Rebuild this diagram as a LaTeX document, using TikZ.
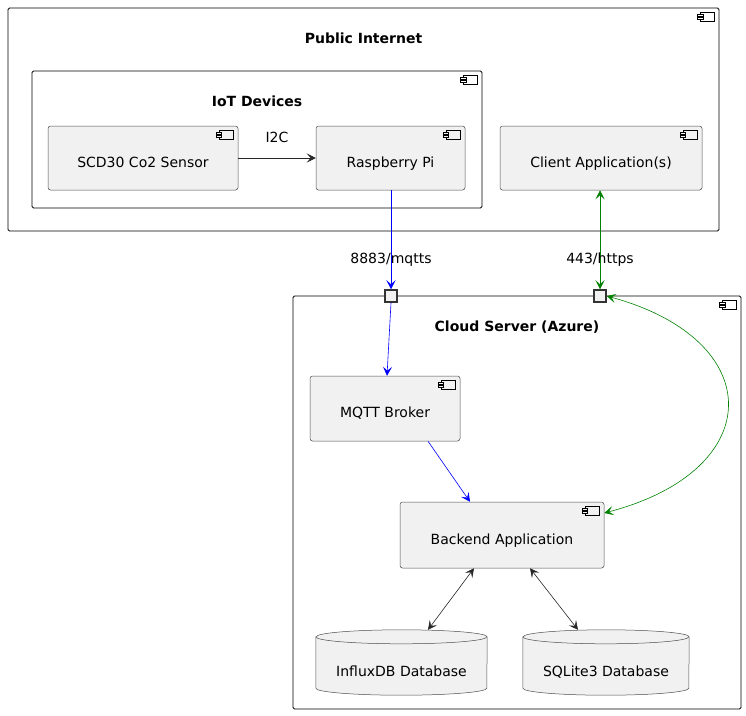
\documentclass[tikz,border=0pt]{standalone}
\usepackage{fontspec}
\setmainfont{DejaVu Sans}
\usepackage{tikz}
\usetikzlibrary{arrows.meta}
\usetikzlibrary{backgrounds}
\usetikzlibrary{positioning}
\usetikzlibrary{math}
\definecolor{compfill}{HTML}{F1F1F1}
\definecolor{pgreen}{HTML}{008000}
\tikzstyle{frame} = [draw=black, line width=0.8pt, rounded corners=1.5pt]
\tikzstyle{comp} = [draw=black!70, fill=compfill, line width=0.5pt, rounded corners=2.5pt, text centered, text height=22pt, text depth=4pt]
\tikzstyle{db} = [text centered, text height=31pt, text depth=4pt]
\tikzstyle{port} = [draw=black!80, fill=compfill, line width=1.5pt, minimum size=12pt, inner sep=0pt]
\tikzstyle{title} = [font=\fontsize{14}{17}\selectfont\bfseries]
\tikzstyle{icon} = [draw=black, line width=0.6pt]
\tikzstyle{arrow} = [-{Stealth[length=9pt,width=9pt,inset=4pt]}, line width=0.6pt]
\tikzstyle{darrow} = [{Stealth[length=9pt,width=9pt,inset=4pt]}-{Stealth[length=9pt,width=9pt,inset=4pt]}, line width=0.6pt]

% small component icon at the top right corner of a box
\newcommand{\compicon}[2]{%
  \begin{scope}[shift={(#1)}]
    \draw[icon, fill=#2] (-19,4.5) rectangle (-5,13.5);
    \draw[icon, fill=#2] (-22,6.5) rectangle (-16.5,8.5);
    \draw[icon, fill=#2] (-22,10) rectangle (-16.5,12);
  \end{scope}}

% database cylinder round a node
\newcommand{\dbcyl}[2]{%
  \filldraw[draw=black!70, fill=compfill, line width=0.5pt]
    ([yshift=-7pt]#1.north west) -- ([yshift=7pt]#1.south west)
    arc[start angle=180, end angle=360, x radius=#2, y radius=7pt]
    -- ([yshift=-7pt]#1.north east)
    arc[start angle=0, end angle=180, x radius=#2, y radius=7pt] -- cycle;
  \draw[draw=black!70, line width=0.5pt] ([yshift=-7pt]#1.north west)
    arc[start angle=180, end angle=360, x radius=#2, y radius=7pt];}

\begin{document}
\begin{tikzpicture}[x=1pt, y=-1pt, font=\fontsize{14}{17}\selectfont]

  \useasboundingbox (0,0) rectangle (746,715);

  % Public Internet
  \node[frame, minimum width=711pt, minimum height=223pt] (internet) at (363.5,119.5) {};
  \node[title] (internettitle) at (363.5,38) {Public Internet};
  \compicon{internet.north east}{white}

  \node[frame, minimum width=450pt, minimum height=137pt] (iot) at (257,139.5) {};
  \node[title] (iottitle) at (257,101) {IoT Devices};
  \compicon{iot.north east}{white}

  \node[comp, minimum width=190pt, minimum height=64pt] (scd) at (143,158) {SCD30 Co2 Sensor};
  \node[comp, minimum width=149pt, minimum height=64pt] (pi) at (390.5,158) {Raspberry Pi};
  \node[comp, minimum width=202pt, minimum height=64pt] (client) at (601,158) {Client Application(s)};
  \compicon{scd.north east}{compfill}
  \compicon{pi.north east}{compfill}
  \compicon{client.north east}{compfill}

  \draw[arrow, black!85] (scd) -- node[above=12pt, text=black] {I2C} (pi);

  % Cloud Server
  \node[frame, minimum width=448pt, minimum height=413pt] (cloud) at (517,502.5) {};
  \node[title] (cloudtitle) at (517,327) {Cloud Server (Azure)};
  \compicon{cloud.north east}{white}

  \node[port] (pmqtt) at (391,296) {};
  \node[port] (phttps) at (600,296) {};

  \node[comp, minimum width=150pt, minimum height=65pt] (mqtt) at (385,408.5) {MQTT Broker};
  \node[comp, minimum width=204pt, minimum height=66pt] (backend) at (502,535) {Backend Application};
  \compicon{mqtt.north east}{compfill}
  \compicon{backend.north east}{compfill}

  \node[db, minimum width=171pt, minimum height=65pt] (influx) at (401.5,662.5) {InfluxDB Database};
  \node[db, minimum width=166pt, minimum height=65pt] (sqlite) at (606,662.5) {SQLite3 Database};
  \begin{scope}[on background layer]
    \dbcyl{influx}{85.5pt}
    \dbcyl{sqlite}{83pt}
  \end{scope}

  % connections
  \draw[arrow, blue] (pi.south -| pmqtt) -- node[pos=0.7, text=black] {8883/mqtts} (pmqtt.north);
  \draw[darrow, pgreen] (client.south -| phttps) -- node[pos=0.7, text=black] {443/https} (phttps.north);

  \draw[arrow, blue] (pmqtt.south) -- ([xshift=2pt]mqtt.north);
  \draw[arrow, blue] ([xshift=43pt]mqtt.south) -- ([xshift=-32pt]backend.north);
  \draw[darrow, pgreen] (phttps.east) .. controls (768,340) and (768,470) .. ([yshift=22pt]backend.east);

  \draw[darrow, black!85] ([xshift=-28pt]backend.south) -- ([xshift=26.5pt]influx.north);
  \draw[darrow, black!85] ([xshift=28pt]backend.south) -- ([xshift=-28pt]sqlite.north);

\end{tikzpicture}
\end{document}
